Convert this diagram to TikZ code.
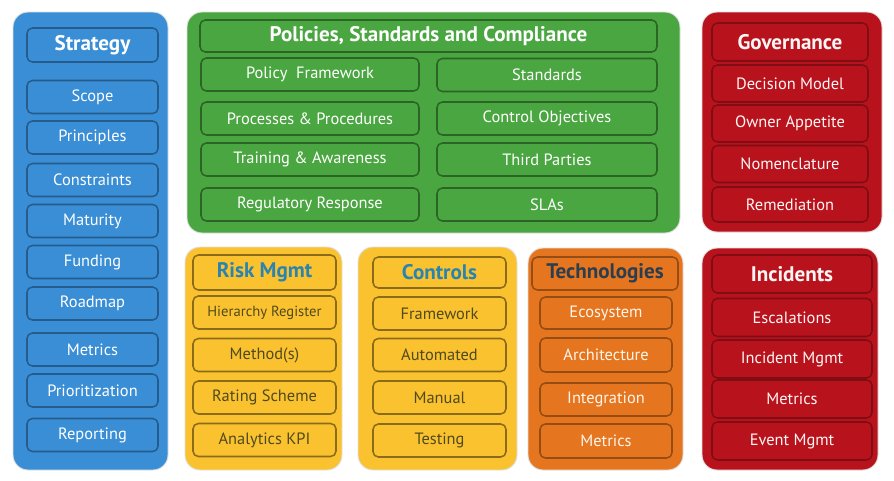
\documentclass[tikz,border=0pt]{standalone}
\usepackage{fontspec}
\setmainfont{PT Sans}
\usetikzlibrary{positioning}
\definecolor{stratblue}{HTML}{3A8ED6}
\definecolor{polgreen}{HTML}{4AA640}
\definecolor{riskyellow}{HTML}{FBC22F}
\definecolor{techorange}{HTML}{E5761F}
\definecolor{govred}{HTML}{B8131C}
\definecolor{titleteal}{HTML}{2A84AE}
\definecolor{itemolive}{HTML}{4F4A1E}
\definecolor{titleslate}{HTML}{2C3E4E}

\tikzset{
    panel/.style={rounded corners=4.5mm, draw=black!12, line width=0.8pt},
    box/.style={rectangle, rounded corners=1.6mm, line width=1.3pt, inner sep=0pt,
        font=\fontsize{14}{16}\selectfont},
    headbox/.style={box, font=\fontsize{18}{20}\selectfont\bfseries},
    blueitem/.style={fill=stratblue, draw=stratblue!65!black, text=white},
    greenitem/.style={fill=polgreen, draw=polgreen!60!black, text=white},
    yellowitem/.style={fill=riskyellow, draw=riskyellow!55!black, text=itemolive},
    orangeitem/.style={fill=techorange, draw=techorange!65!black, text=orange!8},
    reditem/.style={fill=govred, draw=govred!70!black, text=red!4}
}

\begin{document}
\begin{tikzpicture}[x=0.3mm, y=-0.3mm]
    \useasboundingbox (0, 0) rectangle (894, 480);

    % strategy column
    \draw[panel, fill=stratblue] (13, 12) rectangle (168, 470);
    \node[headbox, blueitem, minimum width=39.3mm, minimum height=10.2mm] (strategy) at (92.5, 45) {Strategy};
    \node[box, blueitem, minimum width=39.3mm, minimum height=9.9mm] (scope) at (92.5, 97) {Scope};
    \node[box, blueitem, minimum width=39.3mm, minimum height=9.9mm] (principles) at (92.5, 137.5) {Principles};
    \node[box, blueitem, minimum width=39.3mm, minimum height=9.9mm] (constraints) at (92.5, 180) {Constraints};
    \node[box, blueitem, minimum width=39.3mm, minimum height=9.9mm] (maturity) at (92.5, 221) {Maturity};
    \node[box, blueitem, minimum width=39.3mm, minimum height=9.9mm] (funding) at (92.5, 262) {Funding};
    \node[box, blueitem, minimum width=39.3mm, minimum height=9.9mm] (roadmap) at (92.5, 303.5) {Roadmap};
    \node[box, blueitem, minimum width=39.3mm, minimum height=9.9mm] (metricsA) at (92.5, 349.5) {Metrics};
    \node[box, blueitem, minimum width=39.3mm, minimum height=9.9mm] (prioritization) at (92.5, 390.5) {Prioritization};
    \node[box, blueitem, minimum width=39.3mm, minimum height=9.9mm] (reporting) at (92.5, 435) {Reporting};

    % policies panel
    \draw[panel, fill=polgreen] (187, 12) rectangle (680, 233);
    \node[headbox, greenitem, minimum width=137.1mm, minimum height=9.6mm] (policies) at (428.5, 36) {Policies, Standards and Compliance};
    \node[box, greenitem, minimum width=65.4mm, minimum height=9.9mm] (polframe) at (310, 74.5) {Policy\ \ Framework};
    \node[box, greenitem, minimum width=65.4mm, minimum height=9.9mm] (processes) at (310, 118.5) {Processes \& Procedures};
    \node[box, greenitem, minimum width=65.4mm, minimum height=9.9mm] (training) at (310, 159.5) {Training \& Awareness};
    \node[box, greenitem, minimum width=65.4mm, minimum height=9.9mm] (regulatory) at (310, 204.5) {Regulatory Response};
    \node[box, greenitem, minimum width=66mm, minimum height=9.9mm] (standards) at (547, 75) {Standards};
    \node[box, greenitem, minimum width=66mm, minimum height=9.9mm] (ctrlobj) at (547, 118.5) {Control Objectives};
    \node[box, greenitem, minimum width=66mm, minimum height=9.9mm] (thirdparty) at (547, 159.5) {Third Parties};
    \node[box, greenitem, minimum width=66mm, minimum height=9.9mm] (slas) at (547, 204.5) {SLAs};

    % governance panel
    \draw[panel, fill=govred] (702, 12) rectangle (882, 232);
    \node[headbox, reditem, minimum width=46.8mm, minimum height=11.4mm] (governance) at (790, 42) {Governance};
    \node[box, reditem, minimum width=46.8mm, minimum height=11.1mm] (decision) at (790, 83.5) {Decision Model};
    \node[box, reditem, minimum width=46.8mm, minimum height=11.1mm] (appetite) at (790, 123.5) {Owner Appetite};
    \node[box, reditem, minimum width=46.8mm, minimum height=11.1mm] (nomenclature) at (790, 164) {Nomenclature};
    \node[box, reditem, minimum width=46.8mm, minimum height=10.5mm] (remediation) at (790, 204.5) {Remediation};

    % risk management panel
    \draw[panel, fill=riskyellow] (185, 247) rectangle (342, 470);
    \node[headbox, yellowitem, text=titleteal, minimum width=42.9mm, minimum height=10.5mm] (riskmgmt) at (264.5, 272.5) {Risk Mgmt};
    \node[box, yellowitem, font=\fontsize{12.5}{14}\selectfont, minimum width=42.9mm, minimum height=9.9mm] (hierarchy) at (264.5, 312.5) {Hierarchy Register};
    \node[box, yellowitem, minimum width=42.9mm, minimum height=9.9mm] (methods) at (264.5, 355) {Method(s)};
    \node[box, yellowitem, minimum width=42.9mm, minimum height=9.9mm] (rating) at (264.5, 397.5) {Rating Scheme};
    \node[box, yellowitem, minimum width=42.9mm, minimum height=9.9mm] (analytics) at (264.5, 440) {Analytics KPI};

    % controls panel
    \draw[panel, fill=riskyellow] (358, 247) rectangle (517, 470);
    \node[headbox, yellowitem, text=titleteal, minimum width=39.9mm, minimum height=9.3mm] (controls) at (439.5, 272.5) {Controls};
    \node[box, yellowitem, minimum width=39.9mm, minimum height=9.9mm] (framework) at (439.5, 313.5) {Framework};
    \node[box, yellowitem, minimum width=39.9mm, minimum height=9.9mm] (automated) at (439.5, 355) {Automated};
    \node[box, yellowitem, minimum width=39.9mm, minimum height=9.9mm] (manual) at (439.5, 397.5) {Manual};
    \node[box, yellowitem, minimum width=39.9mm, minimum height=9.9mm] (testing) at (439.5, 440.5) {Testing};

    % technologies panel
    \draw[panel, fill=techorange] (528, 248) rectangle (683, 470);
    \node[headbox, orangeitem, text=titleslate, minimum width=43.8mm, minimum height=9.9mm] (technologies) at (605, 273.5) {Technologies};
    \node[box, orangeitem, minimum width=39.6mm, minimum height=9.6mm] (ecosystem) at (606, 313) {Ecosystem};
    \node[box, orangeitem, minimum width=39.6mm, minimum height=10.2mm] (architecture) at (606, 355) {Architecture};
    \node[box, orangeitem, minimum width=39.6mm, minimum height=9.9mm] (integration) at (606, 399.5) {Integration};
    \node[box, orangeitem, minimum width=39.6mm, minimum height=10.2mm] (metricsB) at (606, 441) {Metrics};

    % incidents panel
    \draw[panel, fill=govred] (702, 248) rectangle (878, 470);
    \node[headbox, reditem, minimum width=48mm, minimum height=11.4mm] (incidents) at (792, 274) {Incidents};
    \node[box, reditem, minimum width=48mm, minimum height=11.4mm] (escalations) at (792, 317.5) {Escalations};
    \node[box, reditem, minimum width=48mm, minimum height=11.4mm] (incmgmt) at (792, 359) {Incident Mgmt};
    \node[box, reditem, minimum width=48mm, minimum height=11.4mm] (metricsC) at (792, 399) {Metrics};
    \node[box, reditem, minimum width=48mm, minimum height=11.4mm] (eventmgmt) at (792, 441) {Event Mgmt};
\end{tikzpicture}
\end{document}
